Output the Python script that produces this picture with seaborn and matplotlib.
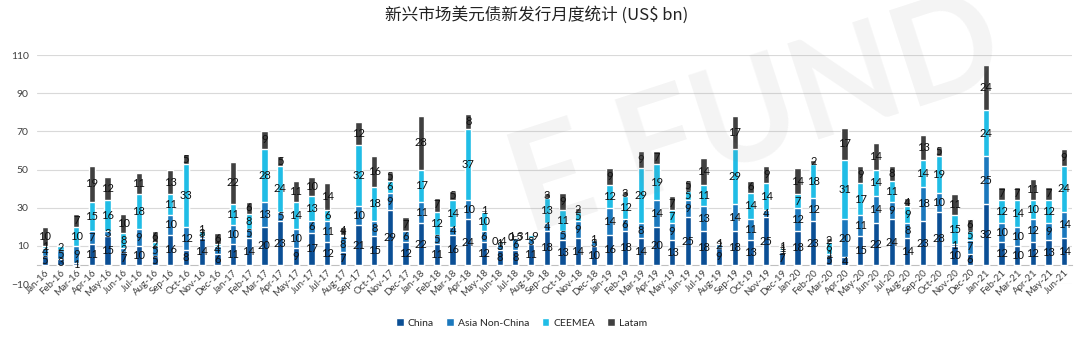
import matplotlib
matplotlib.use("Agg")
import matplotlib.pyplot as plt
import seaborn as sns
import numpy as np
import pandas as pd
from matplotlib.patches import Patch

months = ["Jan-16","Feb-16","Mar-16","Apr-16","May-16","Jun-16","Jul-16","Aug-16","Sep-16","Oct-16","Nov-16","Dec-16",
          "Jan-17","Feb-17","Mar-17","Apr-17","May-17","Jun-17","Jul-17","Aug-17","Sep-17","Oct-17","Nov-17","Dec-17",
          "Jan-18","Feb-18","Mar-18","Apr-18","May-18","Jun-18","Jul-18","Aug-18","Sep-18","Oct-18","Nov-18","Dec-18",
          "Jan-19","Feb-19","Mar-19","Apr-19","May-19","Jun-19","Jul-19","Aug-19","Sep-19","Oct-19","Nov-19","Dec-19",
          "Jan-20","Feb-20","Mar-20","Apr-20","May-20","Jun-20","Jul-20","Aug-20","Sep-20","Oct-20","Nov-20","Dec-20",
          "Jan-21","Feb-21","Mar-21","Apr-21","May-21","Jun-21"]

china = [5,3,1,11,15,7,10,5,16,8,14,6,
         11,14,20,23,9,17,12,7,21,15,29,12,
         22,11,16,24,12,8,8,11,18,13,14,10,
         16,18,14,20,13,25,18,9,18,13,25,7,
         18,23,5,4,15,22,24,14,23,28,10,6,
         32,12,10,12,13,14]
asia = [4,5,9,7,3,2,9,5,10,12,1,4,
        10,5,13,5,10,6,11,8,10,8,9,6,
        11,5,4,10,6,3,6,3,4,5,9,3,
        14,6,8,14,9,9,13,2,14,11,4,1,
        12,12,1,20,11,14,9,8,18,10,1,7,
        25,10,10,12,9,14]
ceemea = [1,2,10,15,16,8,18,2,11,33,3,1,
          11,8,28,24,14,13,6,1,32,18,6,0,
          17,12,14,37,10,1,0.5,1.9,13,11,5,0,
          12,12,29,19,7,5,11,0,29,14,14,1,
          7,18,6,31,17,14,11,9,14,19,15,5,
          24,12,14,10,12,24]
latam = [10,0,7,19,12,10,11,6,13,5,1,6,
         22,6,9,5,11,10,14,4,12,16,5,7,
         28,7,5,8,1,0.4,1.3,0,3,9,2,1,
         9,3,9,7,7,5,14,1,17,6,9,1,
         14,2,2,17,9,14,8,4,13,5,11,6,
         24,7,7,11,7,9]

series = ["China", "Asia Non-China", "CEEMEA", "Latam"]
colors = ["#0b4f95", "#1b78bd", "#20bde6", "#404040"]

df = pd.DataFrame({"month": months, "China": china, "Asia Non-China": asia,
                   "CEEMEA": ceemea, "Latam": latam})
vals = df[series].to_numpy(dtype=float)
cum = np.cumsum(vals, axis=1)

sns.set_style("white")
plt.rcParams["font.family"] = ["Lato", "Noto Sans CJK SC", "DejaVu Sans"]

fig = plt.figure(figsize=(10.8, 3.44), dpi=100)
ax = fig.add_axes([0.0343, 0.174, 0.9583, 0.666])

# watermark
fig.text(0.70, 0.66, "E FUND", fontsize=100, color="#888888", alpha=0.09,
         rotation=18, ha="center", va="center", fontweight="bold", zorder=0)

for k in range(3, -1, -1):
    d = pd.DataFrame({"month": months, "v": cum[:, k]})
    sns.barplot(data=d, x="month", y="v", color=colors[k], width=0.4,
                saturation=1, ax=ax, order=months, zorder=3)

def fmt(v):
    return str(int(v)) if float(v).is_integer() else f"{v:.1f}"

for i in range(len(months)):
    base = 0.0
    for k in range(4):
        v = vals[i, k]
        if v > 0:
            ax.text(i, base + v / 2, fmt(v), ha="center", va="center",
                    fontsize=8, color="#111111", zorder=5)
        base += v

ax.set_ylim(-10, 110)
ax.set_xlim(-0.5, len(months) - 0.5)
ax.set_yticks(np.arange(-10, 111, 20))
ax.yaxis.grid(True, color="#d9d9d9", linewidth=0.8, zorder=0)
ax.set_axisbelow(True)
for s in ["top", "right", "left"]:
    ax.spines[s].set_visible(False)
ax.spines["bottom"].set_position(("data", 0))
ax.spines["bottom"].set_color("#bfbfbf")
ax.set_xlabel("")
ax.set_ylabel("")
ax.tick_params(axis="y", length=0, labelsize=7.5, labelcolor="#404040", pad=6)
ax.tick_params(axis="x", which="major", length=0, labelsize=7, labelcolor="#404040", pad=2)
ax.set_xticks(range(len(months)))
ax.set_xticklabels(months, rotation=45, ha="right", rotation_mode="anchor")
ax.set_xticks(np.arange(-0.5, len(months), 1), minor=True)
ax.tick_params(axis="x", which="minor", length=5, color="#bfbfbf", direction="out")

fig.text(0.497, 0.955, "新兴市场美元债新发行月度统计 (US$ bn)", ha="center", va="center",
         fontsize=12, color="#222222", family=["Noto Sans CJK SC", "DejaVu Sans"])

handles = [Patch(facecolor=c, label=s) for c, s in zip(colors, series)]
fig.legend(handles=handles, loc="center", bbox_to_anchor=(0.483, 0.061), ncol=4,
           frameon=False, fontsize=7.5, handlelength=0.7, handleheight=0.7,
           handletextpad=0.4, columnspacing=1.2)

fig.savefig("out.png", dpi=100)
